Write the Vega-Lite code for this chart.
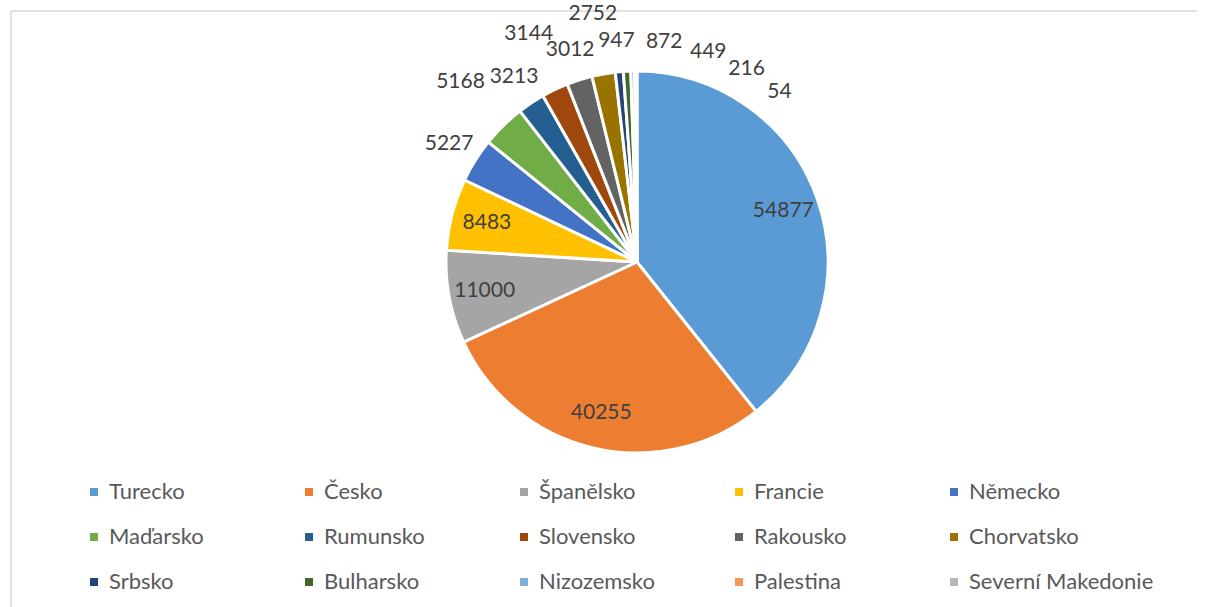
{
  "$schema": "https://vega.github.io/schema/vega-lite/v6.json",
  "width": 1196,
  "height": 596,
  "autosize": {"type": "none"},
  "padding": {"left": 11, "top": 11, "right": 0, "bottom": 0},
  "background": "white",
  "view": {"stroke": "#D9D9D9", "strokeWidth": 1.5, "strokeDash": [1186, 1802, 596, 0]},
  "config": {"font": "Lato"},
  "data": {
    "values": [
      {"country": "Turecko", "value": 54877},
      {"country": "Česko", "value": 40255},
      {"country": "Španělsko", "value": 11000},
      {"country": "Francie", "value": 8483},
      {"country": "Německo", "value": 5227},
      {"country": "Maďarsko", "value": 5168},
      {"country": "Rumunsko", "value": 3213},
      {"country": "Slovensko", "value": 3144},
      {"country": "Rakousko", "value": 3012},
      {"country": "Chorvatsko", "value": 2752},
      {"country": "Srbsko", "value": 947},
      {"country": "Bulharsko", "value": 872},
      {"country": "Nizozemsko", "value": 449},
      {"country": "Palestina", "value": 216},
      {"country": "Severní Makedonie", "value": 54}
    ]
  },
  "transform": [
    {"joinaggregate": [{"op": "sum", "field": "value", "as": "total"}]},
    {
      "window": [
        {"op": "sum", "field": "value", "as": "cum"},
        {"op": "row_number", "as": "rank"}
      ],
      "sort": [{"field": "value", "order": "descending"}],
      "frame": [null, 0]
    },
    {
      "calculate": "(datum.cum - datum.value / 2) / datum.total * 360 + (datum.rank > 11 ? (datum.rank - 11) * 10 : 0)",
      "as": "labelAngle"
    }
  ],
  "layer": [
    {
      "mark": {"type": "arc", "outerRadius": 191, "stroke": "white", "strokeWidth": 3, "xOffset": 28, "yOffset": -47},
      "encoding": {
        "theta": {"field": "value", "type": "quantitative", "stack": true},
        "order": {"field": "value", "sort": "descending"},
        "color": {
          "field": "country",
          "type": "nominal",
          "scale": {
            "domain": ["Turecko", "Česko", "Španělsko", "Francie", "Německo", "Maďarsko", "Rumunsko", "Slovensko", "Rakousko", "Chorvatsko", "Srbsko", "Bulharsko", "Nizozemsko", "Palestina", "Severní Makedonie"],
            "range": ["#5B9BD5", "#ED7D31", "#A5A5A5", "#FFC000", "#4472C4", "#70AD47", "#255E91", "#9E480E", "#636363", "#997300", "#264478", "#43682B", "#7CAFDD", "#F1975A", "#B7B7B7"]
          },
          "legend": {
            "title": null,
            "orient": "none",
            "legendX": 72,
            "legendY": 470,
            "direction": "horizontal",
            "columns": 5,
            "gridAlign": "all",
            "symbolType": "square",
            "symbolSize": 64,
            "symbolStrokeWidth": 0,
            "labelFont": "Lato",
            "labelFontSize": 22,
            "labelColor": "#595959",
            "labelOffset": 4,
            "labelLimit": 400,
            "columnPadding": 4,
            "rowPadding": 23,
            "padding": 0
          }
        }
      }
    },
    {
      "transform": [{"filter": "datum.rank <= 4"}],
      "mark": {"type": "text", "radius": 155, "fontSize": 21, "font": "Lato", "color": "#404040", "xOffset": 28, "yOffset": -47},
      "encoding": {
        "theta": {"field": "labelAngle", "type": "quantitative", "stack": null, "scale": {"domain": [0, 360], "range": [0, 6.283185307179586]}},
        "text": {"field": "value", "type": "quantitative", "format": "d"}
      }
    },
    {
      "transform": [{"filter": "datum.rank >= 5 && (datum.rank % 2 == 1 || datum.rank >= 11)"}],
      "mark": {"type": "text", "radius": 222, "fontSize": 21, "font": "Lato", "color": "#404040", "xOffset": 28, "yOffset": -47},
      "encoding": {
        "theta": {"field": "labelAngle", "type": "quantitative", "stack": null, "scale": {"domain": [0, 360], "range": [0, 6.283185307179586]}},
        "text": {"field": "value", "type": "quantitative", "format": "d"}
      }
    },
    {
      "transform": [{"filter": "datum.rank == 6 || datum.rank == 8 || datum.rank == 10"}],
      "mark": {"type": "text", "radius": 252, "fontSize": 21, "font": "Lato", "color": "#404040", "xOffset": 28, "yOffset": -47},
      "encoding": {
        "theta": {"field": "labelAngle", "type": "quantitative", "stack": null, "scale": {"domain": [0, 360], "range": [0, 6.283185307179586]}},
        "text": {"field": "value", "type": "quantitative", "format": "d"}
      }
    }
  ],
  "resolve": {"scale": {"theta": "independent"}}
}
